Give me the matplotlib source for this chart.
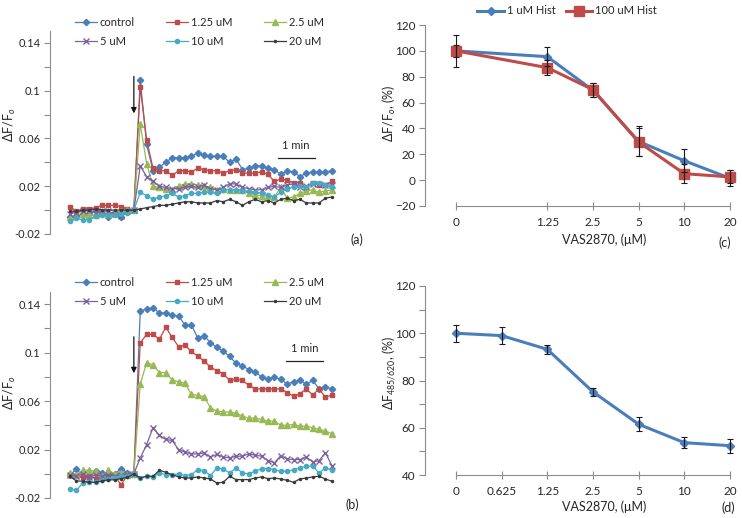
import matplotlib
matplotlib.use('Agg')
import matplotlib.pyplot as plt
import numpy as np

plt.rcParams['font.family'] = ['Lato', 'DejaVu Sans']
plt.rcParams['mathtext.fontset'] = 'custom'
plt.rcParams['mathtext.rm'] = 'Lato'
plt.rcParams['mathtext.it'] = 'Lato:italic'

# ---------------- data ----------------
series_labels = ['control', '1.25 uM', '2.5 uM', '5 uM', '10 uM', '20 uM']

a_control = [-0.006, -0.005, -0.003, -0.003, -0.001, -0.002, -0.006, -0.002, -0.006, -0.001, 0.0,
             0.109, 0.055,
             0.033, 0.036, 0.040, 0.044, 0.044, 0.044, 0.045, 0.048, 0.046, 0.045, 0.045, 0.045, 0.040, 0.043,
             0.034, 0.035, 0.037, 0.037, 0.035, 0.034, 0.030, 0.033, 0.032, 0.028, 0.031, 0.032, 0.032, 0.032, 0.033]
a_125 = [0.003, -0.001, 0.001, 0.001, 0.002, 0.004, 0.004, 0.004, 0.003, 0.001, 0.0,
         0.103, 0.059,
         0.035, 0.033, 0.033, 0.029, 0.033, 0.033, 0.032, 0.035, 0.034, 0.033, 0.033, 0.031, 0.033, 0.034,
         0.031, 0.031, 0.031, 0.032, 0.030, 0.024, 0.026, 0.025, 0.023, 0.023, 0.018, 0.023, 0.021, 0.021, 0.024]
a_25 = [-0.006, -0.004, -0.003, -0.004, -0.004, -0.002, -0.003, -0.002, -0.001, 0.0, 0.0,
        0.072, 0.039,
        0.020, 0.019, 0.018, 0.017, 0.020, 0.022, 0.022, 0.021, 0.020, 0.019, 0.017, 0.018, 0.017, 0.017,
        0.017, 0.014, 0.013, 0.012, 0.012, 0.011, 0.019, 0.010, 0.011, 0.014, 0.016, 0.017, 0.015, 0.016, 0.017]
a_5 = [-0.003, -0.002, -0.001, 0.0, -0.002, -0.001, -0.001, -0.003, -0.005, -0.001, 0.0,
       0.037, 0.028,
       0.024, 0.020, 0.019, 0.018, 0.018, 0.019, 0.020, 0.019, 0.021, 0.018, 0.017, 0.019, 0.022, 0.022,
       0.019, 0.018, 0.017, 0.017, 0.019, 0.020, 0.019, 0.021, 0.022, 0.019, 0.020, 0.022, 0.022, 0.021, 0.021]
a_10 = [-0.009, -0.007, -0.008, -0.008, -0.005, -0.004, -0.004, -0.004, -0.003, -0.002, 0.0,
        0.015, 0.012,
        0.009, 0.011, 0.012, 0.014, 0.011, 0.012, 0.014, 0.014, 0.015, 0.015, 0.014, 0.017, 0.017, 0.017,
        0.016, 0.016, 0.015, 0.014, 0.013, 0.011, 0.015, 0.018, 0.019, 0.020, 0.019, 0.023, 0.023, 0.021, 0.019]
a_20 = [-0.001, -0.001, 0.0, 0.0, 0.001, 0.0, 0.0, 0.0, 0.0, 0.0, 0.0,
        0.001, 0.002, 0.003, 0.004, 0.004, 0.005, 0.006, 0.007, 0.007, 0.006, 0.006, 0.006, 0.008, 0.007,
        0.009, 0.007, 0.004, 0.007, 0.009, 0.007, 0.008, 0.006, 0.009, 0.010, 0.008, 0.009, 0.006, 0.006,
        0.006, 0.010, 0.011]

b_control = [-0.001, 0.004, -0.002, -0.003, 0.002, 0.001, -0.001, 0.000, 0.004, 0.001, 0.0,
             0.1345, 0.136, 0.137, 0.1326, 0.1326, 0.131, 0.130, 0.123,
             0.123, 0.112, 0.114, 0.108, 0.1045, 0.101, 0.097, 0.091, 0.089, 0.086, 0.084, 0.080, 0.078,
             0.080, 0.078, 0.074, 0.076, 0.077, 0.074, 0.077, 0.070, 0.072, 0.070]
b_125 = [-0.001, -0.002, -0.003, -0.001, -0.004, -0.002, -0.001, -0.002, -0.009, -0.001, 0.0,
         0.108, 0.115, 0.115, 0.111, 0.121, 0.1125, 0.105, 0.106,
         0.101, 0.097, 0.093, 0.088, 0.085, 0.0825, 0.077, 0.078, 0.077, 0.073, 0.070, 0.070, 0.070,
         0.070, 0.070, 0.067, 0.064, 0.066, 0.070, 0.065, 0.070, 0.063, 0.065]
b_25 = [0.001, -0.001, 0.003, 0.003, 0.002, -0.002, 0.003, 0.000, 0.001, -0.001, 0.0,
        0.0738, 0.0917, 0.090, 0.0835, 0.0835, 0.0775, 0.076, 0.0747, 0.0655, 0.0647, 0.0636, 0.0545,
        0.0517, 0.051, 0.051, 0.050, 0.0476, 0.0457, 0.046, 0.0448, 0.0435, 0.0435, 0.040, 0.040, 0.0407,
        0.0393, 0.0393, 0.038, 0.0366, 0.0352, 0.0332]
b_5 = [-0.001, -0.002, 0.000, -0.003, -0.001, -0.002, -0.001, -0.002, -0.001, 0.000, 0.0,
       0.013, 0.024, 0.038, 0.0316, 0.0283, 0.0275, 0.020, 0.0178, 0.0164, 0.0164, 0.0172, 0.0139, 0.0159,
       0.0139, 0.0131, 0.0145, 0.0145, 0.0164, 0.0153, 0.0145, 0.0109, 0.009, 0.015, 0.0123, 0.0117,
       0.0117, 0.0137, 0.0098, 0.0109, 0.0172, 0.0068]
b_10 = [-0.0126, -0.0137, -0.0076, -0.007, -0.007, -0.0054, -0.0043, -0.0035, -0.0021, -0.0015, 0.0,
        -0.0035, -0.002, -0.0026, 0.0007, -0.0007, -0.0007, -0.0001, -0.0015, -0.0007, 0.0034, 0.0026,
        -0.0015, 0.0048, 0.004, 0.0007, 0.0048, 0.0007, -0.0001, 0.002, 0.0043, 0.0043, 0.0034, 0.002,
        0.002, 0.0034, 0.0048, 0.0062, 0.0062, 0.0007, 0.0048, 0.0029]
b_20 = [-0.002, -0.006, -0.006, -0.007, -0.007, -0.006, -0.005, -0.005, -0.004, -0.003, 0.0,
        -0.0035, -0.002, -0.0021, 0.0029, 0.0012, -0.0007, -0.0026, -0.0035, -0.0035, -0.0026, -0.0035,
        -0.0043, -0.0076, -0.007, -0.0021, -0.0048, -0.0048, -0.0048, -0.0035, -0.0026, -0.004, -0.0035,
        -0.0043, -0.0054, -0.007, -0.0043, -0.0035, -0.0026, -0.0021, -0.0043, -0.0062]

trace_yticks = [-0.02, 0.02, 0.06, 0.1, 0.14]
trace_yticklabels = ['-0.02', '0.02', '0.06', '0.1', '0.14']

c_conc = [0, 1.25, 2.5, 5, 10, 20]
c_labels = ['0', '1.25', '2.5', '5', '10', '20']
c_1uM = [100, 95.5, 69.5, 30, 15, 1.5]
c_1uM_err = [12.5, 7.5, 5.5, 11.5, 9, 6]
c_100uM = [100, 87, 70, 29.5, 5, 2.5]
c_100uM_err = [4.5, 6, 5.5, 10.5, 7.5, 5]

d_conc = [0, 0.625, 1.25, 2.5, 5, 10, 20]
d_labels = ['0', '0.625', '1.25', '2.5', '5', '10', '20']
d_vals = [100, 99, 93.2, 75.2, 61.5, 53.7, 52.4]
d_err = [3.5, 3.7, 1.8, 1.8, 3.0, 2.3, 3.0]

# ---------------- style ----------------
W, H = 742, 518
colors = ['#4A7EBB', '#BE4B48', '#98B954', '#7D60A0', '#46AAC5', '#3A3A3A']
markers = ['D', 's', '^', 'x', 'o', '.']
msizes = [3.2, 3.4, 3.8, 3.8, 3.0, 3.0]
txt = '#262626'
axc_col = '#8C8C8C'
FS = 8.0


def fx(x):
    return x / W


def fy(y):
    return 1 - y / H


def rect(l, t, r, b):
    return [fx(l), fy(b), (r - l) / W, (b - t) / H]


fig = plt.figure(figsize=(W / 100, H / 100), dpi=100)


def trace_panel(rect_px, data, arrow_y, bar_x, bar_y, tag_xy, ylab_y, leg_y):
    ax = fig.add_axes(rect(*rect_px))
    x = np.arange(len(data[0]))
    handles = []
    for vals, lab, c, m, ms in zip(data, series_labels, colors, markers, msizes):
        h, = ax.plot(x, vals, color=c, lw=0.9, marker=m, ms=ms, mfc=c, mec=c, mew=1.0, label=lab)
        handles.append(h)
    ax.set_xlim(-3.13, 44)
    ax.set_ylim(-0.02, 0.15)
    for s in ['top', 'right', 'bottom']:
        ax.spines[s].set_visible(False)
    ax.spines['left'].set_color(axc_col)
    ax.spines['left'].set_linewidth(0.8)
    ax.set_xticks([])
    ax.set_yticks(trace_yticks)
    ax.set_yticklabels(trace_yticklabels)
    ax.set_yticks([0.0, 0.04, 0.08, 0.12], minor=True)
    ax.tick_params(axis='y', which='both', length=4, width=0.8, color=axc_col,
                   labelsize=FS, labelcolor=txt, pad=3)
    # stimulus arrow
    ax.annotate('', xy=(10, arrow_y[1]), xytext=(10, arrow_y[0]),
                arrowprops=dict(arrowstyle='-|>', color='#111111', lw=0.9,
                                mutation_scale=8, shrinkA=0, shrinkB=0))
    # scale bar
    ax.plot(bar_x, [bar_y, bar_y], color='#222222', lw=0.9)
    ax.text(np.mean(bar_x), bar_y + 0.0062, '1 min', ha='center', va='bottom',
            fontsize=FS, color=txt)
    fig.text(fx(tag_xy[0]), fy(tag_xy[1]), tag_xy[2], ha='center', va='center',
             fontsize=9, color=txt)
    fig.text(fx(10), fy(ylab_y), 'ΔF/F$_{o}$', rotation=90, ha='center', va='center',
             fontsize=9, color=txt)
    order = [0, 3, 1, 4, 2, 5]  # row-major reading with 3 columns
    ax.legend([handles[i] for i in order], [series_labels[i] for i in order],
              loc='upper left', bbox_to_anchor=(fx(75), fy(leg_y)),
              bbox_transform=fig.transFigure, ncol=3, frameon=False,
              fontsize=FS, handlelength=2.0, handletextpad=0.25,
              columnspacing=2.8, labelspacing=0.7, borderaxespad=0, borderpad=0,
              labelcolor=txt)
    return ax


trace_panel((50, 31, 351, 234), [a_control, a_125, a_25, a_5, a_10, a_20],
            (0.112, 0.081), [32.5, 38.3], 0.0434, (357, 240, '(a)'), 125, 17)
trace_panel((50, 292, 351, 498), [b_control, b_125, b_25, b_5, b_10, b_20],
            (0.113, 0.083), [33.8, 39.6], 0.0927, (352, 505, '(b)'), 393, 277)


def conc_pos(conc):
    c = np.asarray(conc, dtype=float)
    out = np.zeros_like(c)
    nz = c > 0
    out[nz] = np.log2(c[nz] / 0.625) + 1
    return out


def dose_axes(rect_px, ylim, yticks, labels, conc):
    ax = fig.add_axes(rect(*rect_px))
    ax.set_xlim(-0.679, 6.2)
    ax.set_ylim(*ylim)
    for s in ['top', 'right']:
        ax.spines[s].set_visible(False)
    for s in ['left', 'bottom']:
        ax.spines[s].set_color(axc_col)
        ax.spines[s].set_linewidth(0.8)
    ax.spines['bottom'].set_bounds(0, 6)
    ax.set_xticks(conc_pos(conc))
    ax.set_xticklabels(labels)
    ax.set_yticks(yticks)
    ax.tick_params(axis='x', direction='inout', length=6, width=0.8, color=axc_col,
                   labelsize=8.5, labelcolor=txt, pad=5)
    ax.tick_params(axis='y', length=4, width=0.8, color=axc_col,
                   labelsize=8.5, labelcolor=txt, pad=3)
    return ax


# panel (c)
axc = dose_axes((425, 25, 739, 206), (-20, 120), [-20, 0, 20, 40, 60, 80, 100, 120], c_labels, c_conc)
pc = conc_pos(c_conc)
axc.plot(pc, c_1uM, color=colors[0], lw=2.2, marker='D', ms=4.5, mfc=colors[0], mec=colors[0],
         label='1 uM Hist', zorder=3)
axc.plot(pc, c_100uM, color=colors[1], lw=2.2, marker='s', ms=7.5, mfc=colors[1], mec=colors[1],
         label='100 uM Hist', zorder=4)
axc.errorbar(pc, c_1uM, yerr=c_1uM_err, fmt='none', ecolor='#1a1a1a', elinewidth=0.8,
             capsize=2.5, capthick=0.8, zorder=5)
axc.errorbar(pc, c_100uM, yerr=c_100uM_err, fmt='none', ecolor='#1a1a1a', elinewidth=0.8,
             capsize=2.5, capthick=0.8, zorder=5)
axc.legend(loc='center', bbox_to_anchor=(fx(567), fy(11)), bbox_transform=fig.transFigure,
           ncol=2, frameon=False, fontsize=FS, handlelength=2.4, handletextpad=0.25,
           columnspacing=0.9, borderaxespad=0, borderpad=0, labelcolor=txt)
fig.text(fx(604), fy(240), 'VAS2870, (μM)', ha='center', va='center', fontsize=9, color=txt)
fig.text(fx(725), fy(243), '(c)', ha='center', va='center', fontsize=9, color=txt)
fig.text(fx(389), fy(113), 'ΔF/F$_{o}$, (%)', rotation=90, ha='center', va='center',
         fontsize=9, color=txt)

# panel (d)
axd = dose_axes((425, 286, 739, 475), (40, 120), [40, 60, 80, 100, 120], d_labels, d_conc)
axd.set_yticks([50, 70, 90, 110], minor=True)
axd.tick_params(axis='y', which='minor', length=4, width=0.8, color=axc_col)
pd_ = conc_pos(d_conc)
axd.plot(pd_, d_vals, color=colors[0], lw=2.2, marker='D', ms=4.5, mfc=colors[0], mec=colors[0], zorder=3)
axd.errorbar(pd_, d_vals, yerr=d_err, fmt='none', ecolor='#1a1a1a', elinewidth=0.8,
             capsize=2.5, capthick=0.8, zorder=5)
fig.text(fx(604), fy(507), 'VAS2870, (μM)', ha='center', va='center', fontsize=9, color=txt)
fig.text(fx(728), fy(508), '(d)', ha='center', va='center', fontsize=9, color=txt)
fig.text(fx(389), fy(373), 'ΔF$_{485/620}$, (%)', rotation=90, ha='center', va='center',
         fontsize=9, color=txt)

fig.savefig('out.png', dpi=100)
